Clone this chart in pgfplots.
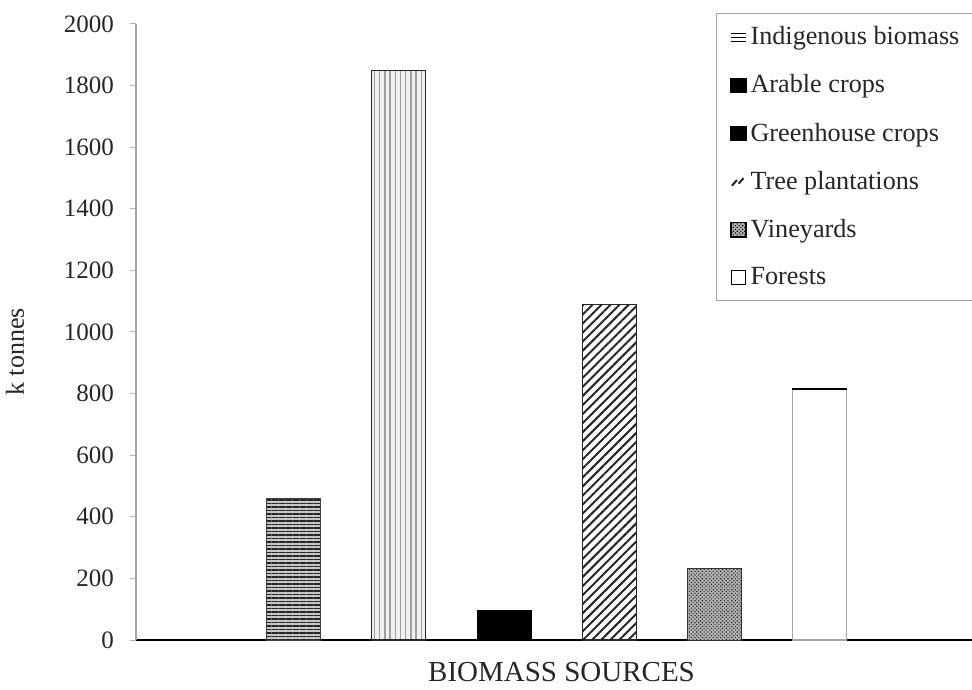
\documentclass[border=0pt]{standalone}
\usepackage{pgfplots}
\pgfplotsset{compat=1.18}
\usepackage{fontspec}
\setmainfont{Liberation Serif}
\usetikzlibrary{patterns,patterns.meta}
\begin{document}
\begin{tikzpicture}
\begin{axis}[
  scale only axis,
  width=418pt, height=308pt,
  xmin=-0.5, xmax=7.45,
  ymin=0, ymax=2000,
  ytick={0,200,...,2000},
  xtick=\empty,
  axis x line=bottom, axis y line=left,
  x axis line style={-, black, line width=0.8pt},
  y axis line style={-, gray!70, line width=0.6pt},
  tick align=outside,
  major tick length=3pt,
  ytick style={gray!60, line width=0.5pt},
  /pgf/number format/assume math mode=true,
  /pgf/number format/1000 sep={},
  yticklabel style={font=\fontsize{12.5}{14}\selectfont, xshift=-4.5pt, text=black!85},
  ybar, bar width=27pt, bar shift=0pt,
  xlabel={BIOMASS SOURCES},
  ylabel={k tonnes},
  xlabel style={at={(rel axis cs:0.509,0)}, anchor=center, yshift=-16pt, font=\fontsize{14.5}{16}\selectfont, text=black!85},
  ylabel style={at={(rel axis cs:-0.1447,0.4675)}, rotate=0, anchor=center, font=\fontsize{13}{15}\selectfont, text=black!85},
  legend style={at={(rel axis cs:1,1)}, anchor=north east, xshift=3pt, yshift=5.5pt,
    draw=gray!70, line width=0.6pt, font=\fontsize{13.1}{14}\selectfont,
    row sep=9.5pt, inner xsep=7pt, inner ysep=4.5pt, text=black!85,
    legend cell align=left},
  clip=false,
]
\coordinate (O) at (rel axis cs:0,0);
% bars
\addplot[forget plot, draw=black!75, line width=0.5pt, fill=gray!45,
  postaction={pattern={Lines[angle=0, distance=1.75pt, line width=0.55pt]}, pattern color=black!85}]
  coordinates {(1,460)};
\addplot[forget plot, draw=black!85, line width=0.6pt, fill=gray!12,
  postaction={pattern={Lines[angle=90, distance=2.6pt, line width=0.7pt]}, pattern color=gray!75}]
  coordinates {(2,1850)};
\addplot[forget plot, draw=black, fill=black, line width=0.5pt]
  coordinates {(3,97)};
\addplot[forget plot, draw=black!85, line width=0.6pt, fill=white,
  postaction={pattern={Lines[angle=45, distance=3.2pt, line width=1pt]}, pattern color=black!85}]
  coordinates {(4,1088)};
\addplot[forget plot, draw=black!80, line width=0.5pt, fill=gray!60,
  postaction={pattern={Dots[angle=45, distance=1.3pt, radius=0.4pt]}, pattern color=black!85}]
  coordinates {(5,233)};
\addplot[forget plot, draw=gray!70, line width=0.6pt, fill=white]
  coordinates {(6,815)};
\draw[black, line width=0.8pt] (axis cs:5.74,815) -- (axis cs:6.26,815);
% legend
\addlegendimage{legend image code/.code={
    \draw[black, line width=0.6pt] (0pt,2pt) -- (7.5pt,2pt) (0pt,0pt) -- (7.5pt,0pt) (0pt,-2pt) -- (7.5pt,-2pt);}}
\addlegendentry{Indigenous biomass}
\addlegendimage{legend image code/.code={\fill[black] (0pt,-3.6pt) rectangle (7.5pt,3.6pt);}}
\addlegendentry{Arable crops}
\addlegendimage{legend image code/.code={\fill[black] (0pt,-3.6pt) rectangle (7.5pt,3.6pt);}}
\addlegendentry{Greenhouse crops}
\addlegendimage{legend image code/.code={
    \draw[black!85, line width=1pt] (0.5pt,-2pt) -- (3pt,0.8pt) (3.8pt,-1pt) -- (6.3pt,1.8pt);}}
\addlegendentry{Tree plantations}
\addlegendimage{legend image code/.code={\filldraw[fill=gray!60, draw=black!80, line width=0.5pt] (0pt,-3.6pt) rectangle (7.5pt,3.6pt);
     \fill[pattern={Dots[angle=45, distance=1.3pt, radius=0.4pt]}, pattern color=black] (0pt,-3.6pt) rectangle (7.5pt,3.6pt);}}
\addlegendentry{Vineyards}
\addlegendimage{legend image code/.code={\draw[black, line width=0.6pt, fill=white] (0.3pt,-3.4pt) rectangle (7.2pt,3.4pt);}}
\addlegendentry{Forests}
\end{axis}
\pgfresetboundingbox
\path (O) ++(-68pt,-24.5pt) rectangle ++(486pt,344.5pt);
\end{tikzpicture}
\end{document}
